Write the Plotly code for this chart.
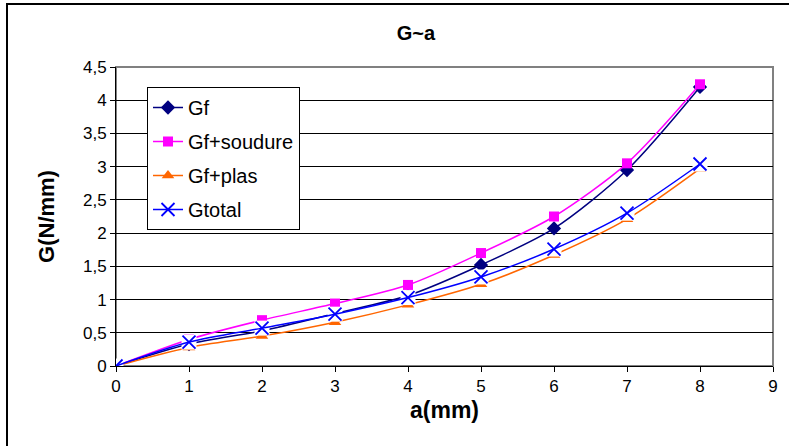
import plotly.graph_objects as go

a_mm = [0, 1, 2, 3, 4, 5, 6, 7, 8]
gf = [0, 0.33, 0.53, 0.79, 1.06, 1.52, 2.07, 2.95, 4.20]
gf_soudure = [0, 0.40, 0.69, 0.94, 1.22, 1.70, 2.25, 3.05, 4.24]
gf_plas = [0, 0.28, 0.45, 0.66, 0.92, 1.23, 1.67, 2.21, 2.97]
gtotal = [0, 0.36, 0.57, 0.78, 1.03, 1.34, 1.76, 2.30, 3.04]

x_ticks = list(range(0, 10))

FONT = "Liberation Sans, Arial, sans-serif"
line_shape = dict(shape="spline", smoothing=0.8)

fig = go.Figure()
fig.add_trace(go.Scatter(
    x=a_mm, y=gf, name="Gf", mode="lines+markers", legendgroup="a",
    line=dict(color="#000080", width=1.5, **line_shape),
    marker=dict(symbol="diamond", size=11, color="#000080")))
fig.add_trace(go.Scatter(
    x=a_mm, y=gf_soudure, name="Gf+soudure", mode="lines+markers", legendgroup="b",
    line=dict(color="#FF00FF", width=1.5, **line_shape),
    marker=dict(symbol="square", size=10, color="#FF00FF")))
fig.add_trace(go.Scatter(
    x=a_mm, y=gf_plas, name="Gf+plas", mode="lines+markers", legendgroup="c",
    line=dict(color="#FF6600", width=1.5, **line_shape),
    marker=dict(symbol="triangle-up", size=11, color="#FF6600")))
# white background behind the X markers (as in the original chart)
fig.add_trace(go.Scatter(
    x=a_mm, y=gtotal, mode="markers", showlegend=False, hoverinfo="skip",
    legendgroup="d",
    marker=dict(symbol="square", size=15, color="white")))
fig.add_trace(go.Scatter(
    x=a_mm, y=gtotal, name="Gtotal", mode="lines+markers", legendgroup="d",
    line=dict(color="#0000FF", width=1.5, **line_shape),
    marker=dict(symbol="x-thin", size=13, line=dict(color="#0000FF", width=1.8))))

fig.update_layout(
    width=789, height=446,
    margin=dict(l=116, r=16, t=67, b=80),
    paper_bgcolor="white", plot_bgcolor="white",
    separators=", ",
    font=dict(family=FONT, size=17, color="black"),
    title=dict(text="<b>G~a</b>", x=416 / 789, xanchor="center",
               y=1 - 33 / 446, yanchor="middle",
               font=dict(family=FONT, size=20, color="black")),
    showlegend=True,
    legend=dict(x=(147 - 116) / 657, y=(366 - 87) / 299, xanchor="left", yanchor="top",
                bordercolor="black", borderwidth=1, bgcolor="white",
                tracegroupgap=5,
                font=dict(family=FONT, size=20, color="black")),
    xaxis=dict(range=[0, 9], tickvals=x_ticks, showgrid=False, zeroline=False,
               showline=True, linecolor="black", linewidth=1,
               ticks="outside", ticklen=5, tickcolor="black",
               title=dict(text="<b>a(mm)</b>", font=dict(family=FONT, size=23), standoff=6),
               tickfont=dict(family=FONT, size=17)),
    yaxis=dict(range=[0, 4.5], dtick=0.5, showgrid=True, gridcolor="black", gridwidth=1,
               zeroline=False, showline=True, linecolor="black", linewidth=1,
               ticks="outside", ticklen=5, tickcolor="black",
               title=dict(text="<b>G(N/mm)</b>", font=dict(family=FONT, size=22), standoff=22),
               tickfont=dict(family=FONT, size=17)),
    shapes=[
        dict(type="rect", xref="paper", yref="paper", x0=0, x1=1, y0=0, y1=1,
             line=dict(color="#808080", width=2), layer="below"),
        dict(type="rect", xref="paper", yref="paper",
             x0=(7 - 116) / 657, x1=1.2, y0=-0.5, y1=(366 - 4) / 299,
             line=dict(color="black", width=2), layer="above"),
    ],
)

fig.write_html("out.html", config={"displayModeBar": False},
               post_script="document.body.style.margin='0';")
